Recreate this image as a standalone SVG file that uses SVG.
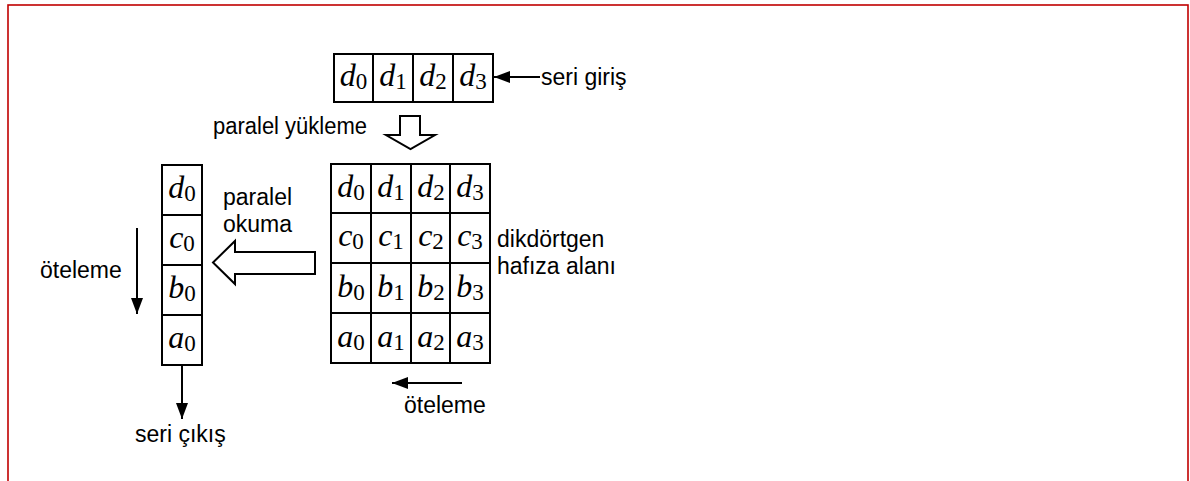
<svg xmlns="http://www.w3.org/2000/svg" width="1190" height="481" viewBox="0 0 1190 481">
<style>
.cell{fill:#fff;stroke:#000;stroke-width:2}
.m{font-family:"Liberation Serif",serif;font-style:italic;font-size:32px;fill:#000;text-anchor:middle}
.s{font-style:normal;font-size:23px}
.lbl{font-family:"Liberation Sans",Arial,sans-serif;font-size:23px;fill:#000}
.ln{stroke:#000;stroke-width:2;fill:none}
.hol{fill:#fff;stroke:#000;stroke-width:2;stroke-linejoin:miter}
</style>
<defs>
<marker id="ah" markerUnits="userSpaceOnUse" markerWidth="16" markerHeight="12" refX="16" refY="6" orient="auto">
<path d="M0,0 L16,6 L0,12 Z" fill="#000"/>
</marker>
</defs>
<rect x="8" y="5" width="1180" height="490" fill="#fff" stroke="#C00000" stroke-width="1.6"/>

<g id="input-register">
<rect class="cell" x="334" y="54" width="39" height="48"/>
<rect class="cell" x="373" y="54" width="40" height="48"/>
<rect class="cell" x="413" y="54" width="40" height="48"/>
<rect class="cell" x="453" y="54" width="40" height="48"/>
<text class="m" x="353.5" y="86">d<tspan class="s" dy="3">0</tspan></text>
<text class="m" x="393" y="86">d<tspan class="s" dy="3">1</tspan></text>
<text class="m" x="433" y="86">d<tspan class="s" dy="3">2</tspan></text>
<text class="m" x="473" y="86">d<tspan class="s" dy="3">3</tspan></text>
</g>

<g id="memory-grid">
<rect class="cell" x="331" y="164" width="40" height="49"/>
<rect class="cell" x="371" y="164" width="40" height="49"/>
<rect class="cell" x="411" y="164" width="39" height="49"/>
<rect class="cell" x="450" y="164" width="40" height="49"/>
<rect class="cell" x="331" y="213" width="40" height="50"/>
<rect class="cell" x="371" y="213" width="40" height="50"/>
<rect class="cell" x="411" y="213" width="39" height="50"/>
<rect class="cell" x="450" y="213" width="40" height="50"/>
<rect class="cell" x="331" y="263" width="40" height="50"/>
<rect class="cell" x="371" y="263" width="40" height="50"/>
<rect class="cell" x="411" y="263" width="39" height="50"/>
<rect class="cell" x="450" y="263" width="40" height="50"/>
<rect class="cell" x="331" y="313" width="40" height="50"/>
<rect class="cell" x="371" y="313" width="40" height="50"/>
<rect class="cell" x="411" y="313" width="39" height="50"/>
<rect class="cell" x="450" y="313" width="40" height="50"/>
<text class="m" x="351" y="197">d<tspan class="s" dy="3">0</tspan></text>
<text class="m" x="391" y="197">d<tspan class="s" dy="3">1</tspan></text>
<text class="m" x="431" y="197">d<tspan class="s" dy="3">2</tspan></text>
<text class="m" x="470" y="197">d<tspan class="s" dy="3">3</tspan></text>
<text class="m" x="351" y="246">c<tspan class="s" dy="3">0</tspan></text>
<text class="m" x="391" y="246">c<tspan class="s" dy="3">1</tspan></text>
<text class="m" x="431" y="246">c<tspan class="s" dy="3">2</tspan></text>
<text class="m" x="470" y="246">c<tspan class="s" dy="3">3</tspan></text>
<text class="m" x="351" y="297">b<tspan class="s" dy="3">0</tspan></text>
<text class="m" x="391" y="297">b<tspan class="s" dy="3">1</tspan></text>
<text class="m" x="431" y="297">b<tspan class="s" dy="3">2</tspan></text>
<text class="m" x="470" y="297">b<tspan class="s" dy="3">3</tspan></text>
<text class="m" x="351" y="347">a<tspan class="s" dy="3">0</tspan></text>
<text class="m" x="391" y="347">a<tspan class="s" dy="3">1</tspan></text>
<text class="m" x="431" y="347">a<tspan class="s" dy="3">2</tspan></text>
<text class="m" x="470" y="347">a<tspan class="s" dy="3">3</tspan></text>
</g>

<g id="output-register">
<rect class="cell" x="162" y="165" width="40" height="50"/>
<rect class="cell" x="162" y="215" width="40" height="50"/>
<rect class="cell" x="162" y="265" width="40" height="50"/>
<rect class="cell" x="162" y="315" width="40" height="50"/>
<text class="m" x="182" y="198">d<tspan class="s" dy="3">0</tspan></text>
<text class="m" x="182" y="248">c<tspan class="s" dy="3">0</tspan></text>
<text class="m" x="182" y="298">b<tspan class="s" dy="3">0</tspan></text>
<text class="m" x="182" y="348">a<tspan class="s" dy="3">0</tspan></text>
</g>

<g id="connectors">
<line class="ln" x1="540" y1="77" x2="494" y2="77" marker-end="url(#ah)"/>
<polygon class="hol" points="400,116 420,116 420,135 435,135 410.5,149 386,135 400,135"/>
<polygon class="hol" points="315,252 235,252 235,241 213,262.5 235,284 235,274 315,274"/>
<line class="ln" x1="137" y1="228" x2="137" y2="314" marker-end="url(#ah)"/>
<line class="ln" x1="182" y1="365" x2="182" y2="419" marker-end="url(#ah)"/>
<line class="ln" x1="462" y1="383" x2="392" y2="383" marker-end="url(#ah)"/>
</g>

<g id="labels">
<text class="lbl" x="541" y="85">seri giriş</text>
<text class="lbl" x="213" y="134" textLength="154" lengthAdjust="spacingAndGlyphs">paralel yükleme</text>
<text class="lbl" x="223" y="205">paralel</text>
<text class="lbl" x="223" y="232">okuma</text>
<text class="lbl" x="497" y="247">dikdörtgen</text>
<text class="lbl" x="497" y="274">hafıza alanı</text>
<text class="lbl" x="40" y="278">öteleme</text>
<text class="lbl" x="404" y="413">öteleme</text>
<text class="lbl" x="135" y="442">seri çıkış</text>
</g>
</svg>
